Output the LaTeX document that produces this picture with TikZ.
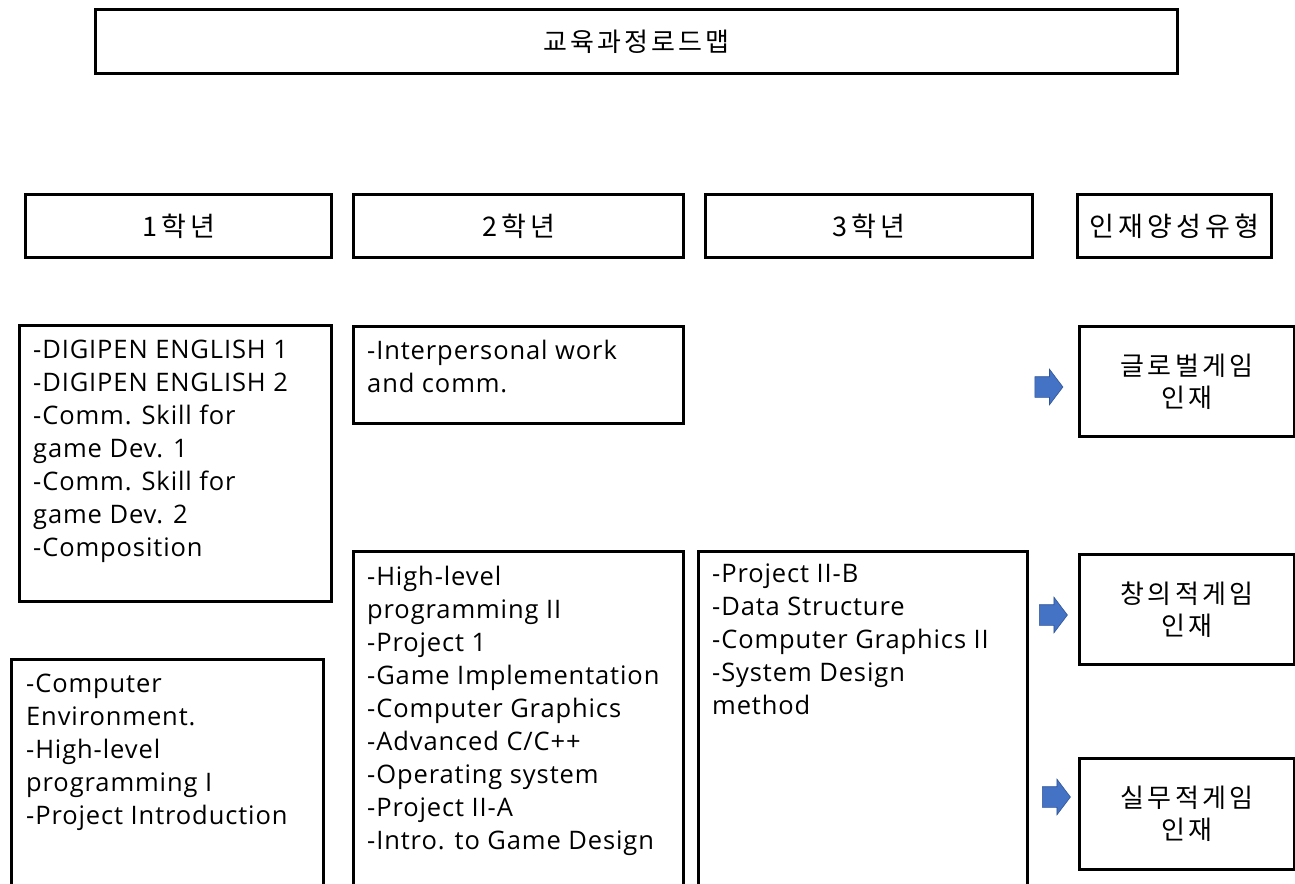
\documentclass[tikz,border=0pt]{standalone}
\usepackage{fontspec}
\setmainfont{Open Sans}[LetterSpace=3.5]
\newfontfamily\kr{Noto Sans CJK KR}[LetterSpace=12]
\newfontfamily\krwide{Noto Sans CJK KR}[LetterSpace=15]
\usetikzlibrary{shapes.arrows,calc}
\definecolor{arrowblue}{HTML}{4472C4}
\definecolor{arrowedge}{HTML}{2F5597}
\begin{document}
\begin{tikzpicture}[x=1pt,y=-1pt,
  box/.style={draw=black, line width=3pt, rectangle, inner sep=0pt, anchor=north west},
  krtext/.style={font={\kr\fontsize{26}{32}\selectfont}, align=center, inner sep=0pt},
  krhead/.style={font={\krwide\fontsize{27}{32}\selectfont}, align=center, inner sep=0pt},
  course/.style={font={\fontsize{25.5}{33}\selectfont}, align=left, anchor=north west, inner sep=0pt},
  bluearrow/.style={single arrow, fill=arrowblue, draw=arrowedge, line width=0.6pt,
    minimum height=28pt, minimum width=35pt, single arrow head extend=7.5pt,
    single arrow tip angle=106, inner xsep=0pt, inner ysep=10pt}]
\useasboundingbox (0,0) rectangle (1295,883);
\fill[white] (0,0) rectangle (1295,883);
\clip (0,0) rectangle (1295,883);

% title
\node[box, minimum width=1082pt, minimum height=64pt] (title) at (94,8) {};
\node[krtext] (titletext) at (title.center) {교육과정로드맵};

% headers
\node[box, minimum width=306pt, minimum height=63pt] (h1) at (24,193) {};
\node[box, minimum width=330pt, minimum height=63pt] (h2) at (352,193) {};
\node[box, minimum width=327pt, minimum height=63pt] (h3) at (704,193) {};
\node[box, minimum width=194pt, minimum height=63pt] (h4) at (1076,193) {};
\node[krhead] (h1t) at (h1.center) {1학년};
\node[krhead] (h2t) at (h2.center) {2학년};
\node[krhead] (h3t) at (h3.center) {3학년};
\node[krhead] (h4t) at (h4.center) {인재양성유형};

% course boxes
\node[box, minimum width=312pt, minimum height=276pt] (y1a) at (18,324) {};
\node[box, minimum width=312pt, minimum height=242pt] (y1b) at (10,658) {};
\node[box, minimum width=330pt, minimum height=97pt] (y2a) at (352,325) {};
\node[box, minimum width=330pt, minimum height=350pt] (y2b) at (352,550) {};
\node[box, minimum width=329pt, minimum height=350pt] (y3) at (697,550) {};

\node[course] (y1at) at ($(y1a.north west)+(15,16)$) {-DIGIPEN ENGLISH 1\\-DIGIPEN ENGLISH 2\\-Comm. Skill for\\game Dev. 1\\-Comm. Skill for\\game Dev. 2\\-Composition};
\node[course] (y1bt) at ($(y1b.north west)+(16,16)$) {-Computer\\Environment.\\-High-level\\programming I\\-Project Introduction};
\node[course] (y2at) at ($(y2a.north west)+(15,15)$) {-Interpersonal work\\and comm.};
\node[course] (y2bt) at ($(y2b.north west)+(15,16)$) {-High-level\\programming II\\-Project 1\\-Game Implementation\\-Computer Graphics\\-Advanced C/C++\\-Operating system\\-Project II-A\\-Intro. to Game Design};
\node[course] (y3t) at ($(y3.north west)+(15,14)$) {-Project II-B\\-Data Structure\\-Computer Graphics II\\-System Design\\method};

% outcome boxes
\node[box, minimum width=215pt, minimum height=110pt] (r1) at (1078,325) {};
\node[box, minimum width=215pt, minimum height=110pt] (r2) at (1078,553) {};
\node[box, minimum width=215pt, minimum height=111pt] (r3) at (1078,757) {};
\node[krtext] (r1t) at (r1.center) {글로벌게임\\인재};
\node[krtext] (r2t) at (r2.center) {창의적게임\\인재};
\node[krtext] (r3t) at (r3.center) {실무적게임\\인재};

% arrows
\node[bluearrow] (a1) at (1045,387) {};
\node[bluearrow] (a2) at (1049.5,615) {};
\node[bluearrow] (a3) at (1052.5,797) {};
\end{tikzpicture}
\end{document}
